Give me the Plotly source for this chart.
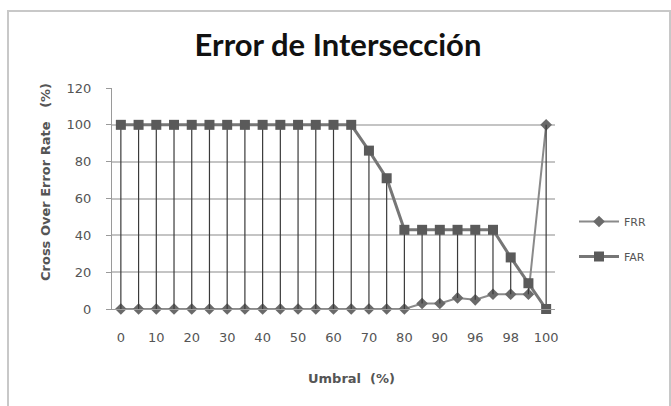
import plotly.graph_objects as go

umbral = ["0", "5", "10", "15", "20", "25", "30", "35", "40", "45", "50", "55", "60",
          "65", "70", "75", "80", "85", "90", "95", "96", "97", "98", "99", "100"]
tick_labels = ["0", "10", "20", "30", "40", "50", "60", "70", "80", "90", "96", "98", "100"]
frr = [0, 0, 0, 0, 0, 0, 0, 0, 0, 0, 0, 0, 0, 0, 0, 0, 0, 3, 3, 6, 5, 8, 8, 8, 100]
far = [100, 100, 100, 100, 100, 100, 100, 100, 100, 100, 100, 100, 100, 100,
       86, 71, 43, 43, 43, 43, 43, 43, 28, 14, 0]

up = [max(r - a, 0) for r, a in zip(frr, far)]
down = [max(a - r, 0) for r, a in zip(frr, far)]

fig = go.Figure()
fig.add_trace(go.Scatter(
    x=umbral, y=frr, name="FRR", mode="lines+markers", cliponaxis=False,
    line=dict(color="#8a8a8a", width=2),
    marker=dict(symbol="diamond", size=9, color="#6a6a6a"),
    legendgroup="a",
))
fig.add_trace(go.Scatter(
    x=umbral, y=far, name="FAR", mode="lines+markers", cliponaxis=False,
    line=dict(color="#767676", width=3),
    marker=dict(symbol="square", size=10, color="#5a5a5a"),
    error_y=dict(type="data", symmetric=False, array=up, arrayminus=down,
                 width=0, thickness=1.2, color="#3a3a3a"),
    legendgroup="b",
))

W, H = 671, 406
L, R, T, B = 112, 116, 88, 97
pw, ph = W - L - R, H - T - B

def px(x):
    return (x - L) / pw

def py(y):
    return (H - B - y) / ph

fig.add_shape(type="rect", xref="paper", yref="paper",
              x0=px(8), x1=px(670), y0=py(430), y1=py(11),
              line=dict(color="#c8c8c8", width=2), layer="below")

axis_font = dict(family="DejaVu Sans", size=13, color="#555555")
fig.add_annotation(text="<b>Umbral  (%)</b>", xref="paper", yref="paper",
                   x=px(351), y=py(378), showarrow=False,
                   xanchor="center", yanchor="middle", font=axis_font)
fig.add_annotation(text="<b>Cross Over Error Rate&nbsp;&nbsp;&nbsp;(%)</b>",
                   xref="paper", yref="paper",
                   x=px(45), y=py(182), showarrow=False, textangle=-90,
                   xanchor="center", yanchor="middle", font=axis_font)

tick_font = dict(family="DejaVu Sans", size=13, color="#555555")

fig.update_layout(
    width=W, height=H,
    margin=dict(l=L, r=R, t=T, b=B, autoexpand=False),
    paper_bgcolor="white", plot_bgcolor="white",
    title=dict(text="<b>Error de Intersección</b>", xref="container",
               x=338 / W, xanchor="center",
               y=1 - 45 / H, yanchor="middle",
               font=dict(family="Lato", size=31, color="#111111")),
    showlegend=True,
    legend=dict(x=px(574), y=py(207), xanchor="left", yanchor="top",
                font=dict(family="DejaVu Sans", size=11, color="#555555"),
                itemwidth=40, tracegroupgap=16, bgcolor="rgba(0,0,0,0)"),
    xaxis=dict(
        type="category", categoryorder="array", categoryarray=umbral,
        range=[-0.5, len(umbral) - 0.5], automargin=False,
        tickmode="array", tickvals=tick_labels, ticktext=tick_labels,
        showgrid=False, zeroline=False,
        showline=True, linecolor="#9a9a9a", linewidth=1,
        ticks="", ticklabelstandoff=16, tickfont=tick_font,
    ),
    yaxis=dict(
        range=[0, 120], tickmode="array", tickvals=[0, 20, 40, 60, 80, 100, 120],
        automargin=False,
        showgrid=True, gridcolor="#c4c4c4", gridwidth=1.5, zeroline=False,
        showline=True, linecolor="#9a9a9a", linewidth=1,
        ticks="outside", ticklen=5, tickcolor="#9a9a9a", ticklabelstandoff=12,
        tickfont=tick_font,
    ),
)

fig.write_html("out.html", config={"displayModeBar": False},
               post_script="document.body.style.margin='0';")
